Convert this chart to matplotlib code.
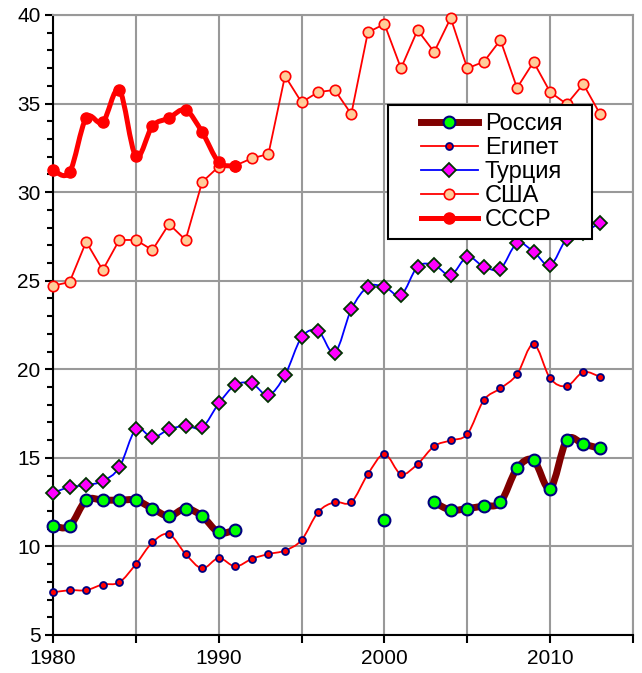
import numpy as np
import matplotlib
matplotlib.use('Agg')
import matplotlib.pyplot as plt
from matplotlib.path import Path
from matplotlib.patches import PathPatch, Rectangle
from matplotlib.lines import Line2D
from matplotlib.ticker import MultipleLocator

plt.rcParams['font.family'] = ['Liberation Sans', 'DejaVu Sans']

# DATA
years = list(range(1980, 2014))
years_ussr = list(range(1980, 1992))

russia = [11.15, 11.15, 12.61, 12.61, 12.61, 12.61, 12.14, 11.71, 12.14, 11.71,
          10.79, 10.92, np.nan, np.nan, np.nan, np.nan, np.nan, np.nan, np.nan, np.nan,
          11.49, np.nan, np.nan, 12.49, 12.05, 12.14, 12.29, 12.49, 14.40, 14.87,
          13.27, 16.00, 15.78, 15.53]
egypt = [7.40, 7.53, 7.53, 7.85, 7.97, 9.00, 10.23, 10.69, 9.57, 8.76,
         9.34, 8.87, 9.30, 9.57, 9.77, 10.36, 11.94, 12.50, 12.50, 14.08,
         15.21, 14.08, 14.65, 15.66, 15.99, 16.34, 18.26, 18.92, 19.71, 21.42,
         19.49, 19.05, 19.84, 19.58]
turkey = [13.03, 13.35, 13.46, 13.69, 14.46, 16.61, 16.15, 16.61, 16.81, 16.72,
          18.07, 19.11, 19.20, 18.54, 19.67, 21.80, 22.17, 20.93, 23.38, 24.66,
          24.66, 24.19, 25.79, 25.88, 25.32, 26.35, 25.79, 25.68, 27.11, 26.64,
          25.87, 27.37, 27.71, 28.27]
usa = [24.72, 24.92, 27.20, 25.60, 27.30, 27.30, 26.73, 28.20, 27.30, 30.57,
       31.44, 31.50, 31.91, 32.15, 36.56, 35.07, 35.65, 35.77, 34.41, 39.02,
       39.49, 36.99, 39.15, 37.91, 39.83, 36.99, 37.36, 38.59, 35.88, 37.35,
       35.65, 34.97, 36.10, 34.43]
ussr = [31.25, 31.12, 34.18, 33.94, 35.77, 32.04, 33.73, 34.18, 34.64, 33.39,
        31.70, 31.47]

labels = ['Россия', 'Египет', 'Турция', 'США', 'СССР']

GRID = '#999999'


def smooth_path(xs, ys):
    pts = np.column_stack([xs, ys])
    n = len(pts)
    verts = [pts[0]]
    codes = [Path.MOVETO]
    for i in range(n - 1):
        p0 = pts[i - 1] if i > 0 else pts[i]
        p1 = pts[i]
        p2 = pts[i + 1]
        p3 = pts[i + 2] if i + 2 < n else pts[i + 1]
        verts += [p1 + (p2 - p0) / 6, p2 - (p3 - p1) / 6, p2]
        codes += [Path.CURVE4] * 3
    return Path(verts, codes)


def draw_series(ax, xs, ys, smooth, line_kw, marker_kw, z):
    xs = np.asarray(xs, float)
    ys = np.asarray(ys, float)
    ok = ~np.isnan(ys)
    # split into runs without gaps
    runs = []
    cur = []
    for i in range(len(xs)):
        if ok[i]:
            cur.append(i)
        elif cur:
            runs.append(cur)
            cur = []
    if cur:
        runs.append(cur)
    for r in runs:
        if len(r) < 2:
            continue
        if smooth:
            p = PathPatch(smooth_path(xs[r], ys[r]), fill=False, zorder=z,
                          clip_on=False, capstyle='round', joinstyle='round', **line_kw)
            ax.add_patch(p)
        else:
            ax.plot(xs[r], ys[r], zorder=z, clip_on=False,
                    solid_joinstyle='round', **{('color' if k == 'edgecolor' else k): v
                                                  for k, v in line_kw.items()})
    ax.plot(xs[ok], ys[ok], linestyle='none', zorder=z + 0.5, clip_on=False, **marker_kw)


fig = plt.figure(figsize=(6.42, 6.73), dpi=100)
ax = fig.add_axes([53 / 642, 1 - 635 / 673, 580 / 642, 620 / 673])

styles = [
    (years, russia, True, dict(edgecolor='#800000', linewidth=5.0),
     dict(marker='o', markersize=8.5, markerfacecolor='#00FF00',
          markeredgecolor='#000080', markeredgewidth=1.5)),
    (years, egypt, True, dict(edgecolor='#FF0000', linewidth=1.3),
     dict(marker='o', markersize=5, markerfacecolor='#FF0000',
          markeredgecolor='#000080', markeredgewidth=1.3)),
    (years, turkey, True, dict(edgecolor='#0000FF', linewidth=1.3),
     dict(marker='D', markersize=7.5, markerfacecolor='#FF00FF',
          markeredgecolor='#003300', markeredgewidth=1.3)),
    (years, usa, False, dict(edgecolor='#FF0000', linewidth=1.3),
     dict(marker='o', markersize=7.5, markerfacecolor='#FFCC99',
          markeredgecolor='#FF0000', markeredgewidth=1.2)),
    (years_ussr, ussr, True, dict(edgecolor='#FF0000', linewidth=3.6),
     dict(marker='o', markersize=8, markerfacecolor='#FF0000',
          markeredgecolor='#FF0000', markeredgewidth=1.0)),
]

handles = []
for i, (xs, ys, sm, lk, mk) in enumerate(styles):
    draw_series(ax, xs, ys, sm, lk, mk, 3 + i)
    handles.append(Line2D([], [], color=lk['edgecolor'], linewidth=lk['linewidth'], **mk))

ax.set_xlim(1980, 2015)
ax.set_ylim(5, 40)
ax.xaxis.set_major_locator(MultipleLocator(10))
ax.xaxis.set_minor_locator(MultipleLocator(5))
ax.yaxis.set_major_locator(MultipleLocator(5))
ax.yaxis.set_minor_locator(MultipleLocator(1))
ax.grid(True, which='major', color=GRID, linewidth=1.5)
ax.grid(True, which='minor', axis='x', color=GRID, linewidth=1.5)
ax.set_axisbelow(True)

ax.tick_params(axis='both', which='both', direction='out', width=1.5, color='black',
               labelsize=15)
ax.tick_params(axis='x', which='both', length=6, pad=4)
ax.tick_params(axis='y', which='major', length=6, pad=3)
ax.tick_params(axis='y', which='minor', length=4)

for s in ['left', 'bottom']:
    ax.spines[s].set_color('black')
    ax.spines[s].set_linewidth(1.5)
for s in ['top', 'right']:
    ax.spines[s].set_color(GRID)
    ax.spines[s].set_linewidth(1.5)

# legend frame
ax.add_patch(Rectangle((388 / 642, 1 - 239 / 673), 204 / 642, 134 / 673,
                       transform=fig.transFigure, facecolor='white', edgecolor='black',
                       linewidth=1.5, zorder=20, clip_on=False))
leg = ax.legend(handles, labels, loc='upper left', frameon=False,
                bbox_to_anchor=(421 / 642, 1 - 113 / 673), bbox_transform=fig.transFigure,
                borderpad=0, borderaxespad=0, fontsize=17, labelspacing=0.09,
                handlelength=2.4, handletextpad=0.3)
leg.set_zorder(21)

fig.savefig('out.png', dpi=100)
